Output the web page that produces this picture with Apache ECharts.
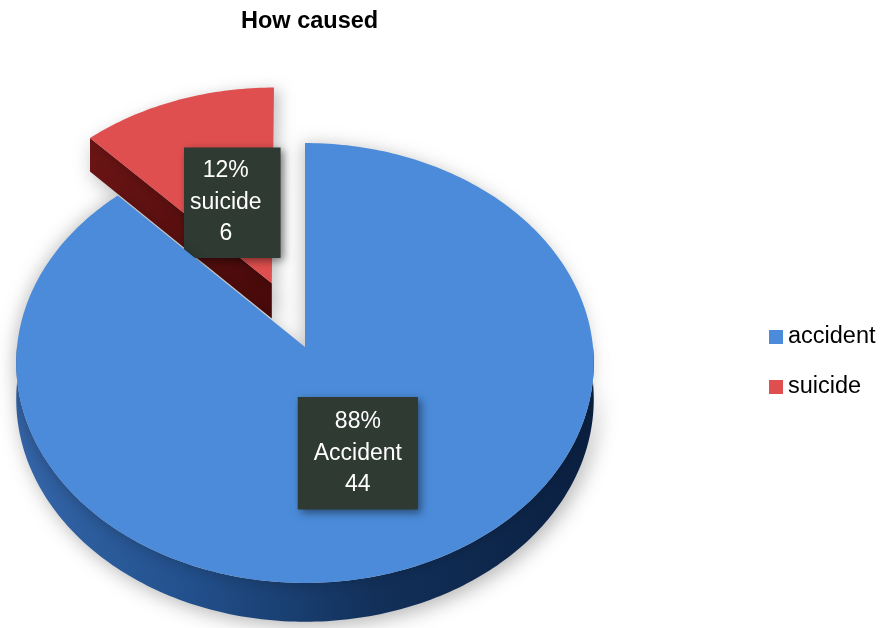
<!DOCTYPE html>
<html><head><meta charset="utf-8">
<script src="https://cdn.jsdelivr.net/npm/echarts@6/dist/echarts.min.js"></script>
<style>html,body{margin:0;padding:0;background:#fff}#c{width:891px;height:628px}</style>
</head><body><div id="c"></div>
<script>
// ---- data ----
const categories = ['accident', 'suicide'];
const labelNames = ['Accident', 'suicide'];
const values = [44, 6];
const titleText = 'How caused';

// ---- style ----
const colors = ['#4b8bd9', '#e04f4f'];
const wallStops = [
  [{offset:0,color:'#3566aa'},{offset:0.3,color:'#22508c'},{offset:0.62,color:'#12305a'},{offset:1,color:'#0a1f40'}],
  [{offset:0,color:'#6a1414'},{offset:1,color:'#480909'}]
];
const explode = [0, 0.32];
const labelR = [0.5, 0.42];
const labelShift = [[-2, 1], [2, -1]];
const labelPad = [[9,16,9,16],[8,19,8,6]];
const FONT = "'Liberation Sans', Arial, sans-serif";
// projection of the pie disc
const CX = 305, CY = 347, A = 288, B = 218.8, K = 0.0727, H = 36;

function renderSlice(idx) {
  return function (params, api) {
    const total = values.reduce((a, b) => a + b, 0);
    let start = 0;
    for (let j = 0; j < idx; j++) start += values[j] / total * 360;
    const v = api.value(0);
    const end = start + v / total * 360;
    const mid = (start + end) / 2 * Math.PI / 180;
    const ex = explode[idx] * Math.sin(mid), ez = explode[idx] * Math.cos(mid);
    function P(r, deg, down) {
      const t = deg * Math.PI / 180;
      const X = ex + r * Math.sin(t), Z = ez + r * Math.cos(t);
      const w = 1 + K * Z;
      return [CX + A * X / w, CY - B * Z / w + (down ? H / w : 0)];
    }
    function arc(a0, a1, down) {
      const pts = [];
      const n = Math.max(2, Math.ceil(Math.abs(a1 - a0)));
      for (let k = 0; k <= n; k++) pts.push(P(1, a0 + (a1 - a0) * k / n, down));
      return pts;
    }
    const children = [];
    const shadow = {shadowBlur: 20, shadowColor: 'rgba(0,0,0,0.3)', shadowOffsetX: 4, shadowOffsetY: 4};
    // outer front wall
    const lo = Math.max(start, 90), hi = Math.min(end, 270);
    if (hi > lo) {
      const pts = arc(lo, hi, false).concat(arc(lo, hi, true).reverse());
      children.push({type: 'polygon', z2: 1, shape: {points: pts},
        style: Object.assign({fill: {type: 'linear', x: 0, y: 0, x2: 1, y2: 0, colorStops: wallStops[idx]}}, shadow)});
    }
    // radial walls
    [[start, -1], [end, 1]].forEach(function (e) {
      const t = e[0] * Math.PI / 180;
      const nz = e[1] > 0 ? -Math.sin(t) : Math.sin(t);
      if (nz < -0.01) {
        const pts = [P(0, 0, false), P(1, e[0], false), P(1, e[0], true), P(0, 0, true)];
        children.push({type: 'polygon', z2: 2, shape: {points: pts},
          style: Object.assign({fill: {type: 'linear', x: 0, y: 0, x2: 1, y2: 0, colorStops: wallStops[idx]}}, shadow)});
      }
    });
    // top face
    const top = [P(0, 0, false)].concat(arc(start, end, false));
    children.push({type: 'polygon', z2: 3, shape: {points: top},
      style: idx === 1
        ? {fill: colors[idx], shadowBlur: 14, shadowColor: 'rgba(0,0,0,0.22)', shadowOffsetX: 6, shadowOffsetY: 2}
        : {fill: colors[idx], shadowBlur: 16, shadowColor: 'rgba(0,0,0,0.22)', shadowOffsetX: -3, shadowOffsetY: 0}});
    // label
    const lp = P(labelR[idx], (start + end) / 2, false);
    const pct = Math.round(v / total * 100);
    children.push({type: 'text', z2: 5, style: {
      text: pct + '%\n' + labelNames[idx] + '\n' + v,
      x: lp[0] + labelShift[idx][0], y: lp[1] + labelShift[idx][1], align: 'center', verticalAlign: 'middle',
      fill: '#ffffff', fontSize: 23, fontFamily: FONT, lineHeight: 31.5,
      backgroundColor: '#2f3a33', padding: labelPad[idx],
      shadowBlur: 8, shadowColor: 'rgba(0,0,0,0.45)', shadowOffsetX: 3, shadowOffsetY: 3
    }});
    return {type: 'group', children: children};
  };
}

const chart = echarts.init(document.getElementById('c'), null, {renderer: 'canvas'});
chart.setOption({
  animation: false,
  backgroundColor: '#ffffff',
  title: {text: titleText, left: 241, top: 10, padding: 0,
    textStyle: {fontSize: 23.5, fontWeight: 'bold', color: '#000', fontFamily: FONT}},
  legend: {orient: 'vertical', left: 769, top: 325, padding: 0, itemWidth: 14, itemHeight: 14, itemGap: 26,
    icon: 'rect', data: categories, selectedMode: false,
    textStyle: {fontSize: 23.5, color: '#000', fontFamily: FONT}},
  series: categories.map(function (name, i) {
    return {type: 'custom', name: name, coordinateSystem: 'none', z: i === 0 ? 3 : 2,
      silent: true, itemStyle: {color: colors[i]}, data: [[values[i]]], renderItem: renderSlice(i)};
  })
});
</script></body></html>
